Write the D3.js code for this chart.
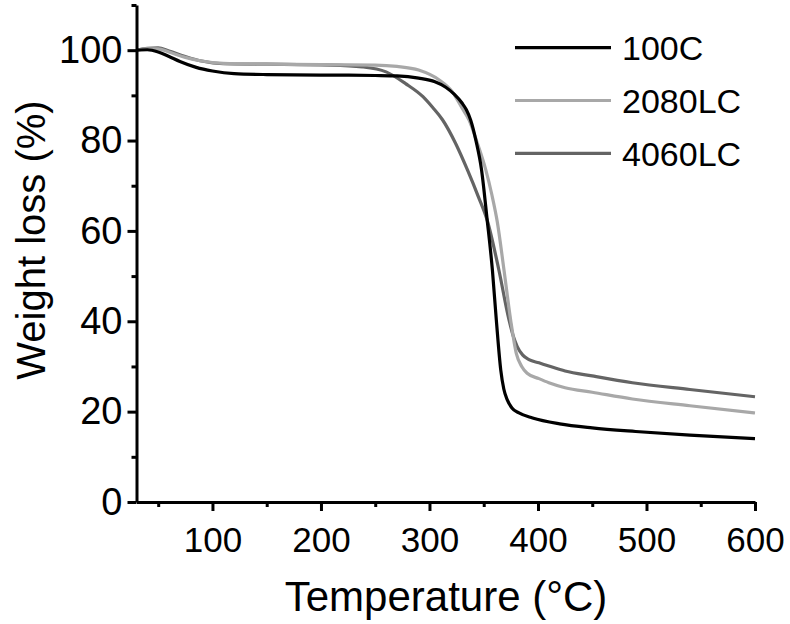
<!DOCTYPE html>
<html><head><meta charset="utf-8">
<script src="https://cdn.jsdelivr.net/npm/d3@7"></script>
<style>body{margin:0;background:#fff}svg{display:block}text{font-family:"Liberation Sans",Arial,sans-serif;fill:#000}</style>
</head><body><svg id="c" width="790" height="624"></svg>
<script>
const seriesNames = ["100C", "2080LC", "4060LC"];
const seriesColors = ["#000000", "#a8a8a8", "#646464"];
const xMajorTicks = [100, 200, 300, 400, 500, 600];
const xMinorTicks = [50, 150, 250, 350, 450, 550];
const yMajorTicks = [0, 20, 40, 60, 80, 100];
const yMinorTicks = [10, 30, 50, 70, 90, 110];

const s100C = [[30,100],[40,100.1],[50,99.6],[60,98.6],[70,97.5],[85,96.2],[100,95.4],[120,94.8],[150,94.6],[200,94.5],[250,94.4],[270,94.3],[290,93.8],[305,93.0],[315,91.8],[323,90.2],[330,88.3],[334,86.8],[338,84.5],[343,79.8],[348,73.5],[353,62.8],[358,51.3],[361.6,40.3],[365.7,29.2],[368.5,25],[371.7,22.6],[376,20.8],[382.5,19.7],[395,18.6],[420,17.3],[450,16.4],[490,15.6],[540,14.8],[600,14.0]];
const s2080LC = [[30,100],[40,100.3],[50,100.3],[60,99.6],[75,98.4],[90,97.6],[110,97.1],[150,96.9],[200,96.8],[250,96.7],[270,96.4],[290,95.6],[309,93.4],[321,90.8],[330,87.2],[336.5,84.5],[344,79.5],[351.9,73.5],[357.5,68],[362.5,62],[368.7,51.3],[374.8,40.3],[380,32.9],[385,30],[390,28.5],[400.9,27.3],[410,26.4],[425,25.3],[450,24.3],[487,22.8],[540,21.3],[600,19.7]];
const s4060LC = [[30,100],[40,100.4],[50,100.5],[60,99.8],[75,98.6],[90,97.6],[110,97.0],[150,96.9],[208,96.7],[238,96.3],[260,95.2],[278,92.6],[294,89.7],[303,87.3],[312,84.6],[324,79.4],[335,73.5],[345,67.6],[353.4,62.2],[364,51.3],[373.3,40.3],[377.5,36.5],[380.9,34.4],[386,32.5],[391.7,31.5],[400.9,30.8],[410,30.1],[425,29.0],[450,27.9],[487,26.4],[540,24.9],[600,23.3]];
const seriesData = [s100C, s2080LC, s4060LC];

const svg = d3.select("#c");
const x = d3.scaleLinear().domain([30, 600]).range([136.5, 755]);
const y = d3.scaleLinear().domain([0, 110]).range([502, 5]);

// lines
const line = d3.line().x(d => x(d[0])).y(d => y(d[1])).curve(d3.curveMonotoneX);
const order = [2, 1, 0];
order.forEach(i => {
  svg.append("path").datum(seriesData[i]).attr("d", line)
    .attr("fill", "none").attr("stroke", seriesColors[i]).attr("stroke-width", 3.2)
    .attr("stroke-linejoin", "round");
});

// axes
const gx = svg.append("g").attr("transform", "translate(0,502)");
gx.call(d3.axisBottom(x).tickValues(xMajorTicks).tickSize(9).tickSizeOuter(0).tickPadding(16));
const gxm = svg.append("g").attr("transform", "translate(0,502)");
gxm.call(d3.axisBottom(x).tickValues(xMinorTicks).tickSize(5).tickSizeOuter(0).tickFormat(""));
gxm.select(".domain").remove();
const gy = svg.append("g").attr("transform", "translate(136.5,0)");
gy.call(d3.axisLeft(y).tickValues(yMajorTicks).tickSize(9).tickSizeOuter(0).tickPadding(5));
const gym = svg.append("g").attr("transform", "translate(136.5,0)");
gym.call(d3.axisLeft(y).tickValues(yMinorTicks).tickSize(5).tickSizeOuter(0).tickFormat(""));
gym.select(".domain").remove();
svg.selectAll(".domain, .tick line").attr("stroke", "#000").attr("stroke-width", 3);
svg.selectAll(".tick text").attr("font-family", '"Liberation Sans", Arial, sans-serif').attr("fill", "#000");
gx.selectAll(".tick text").attr("font-size", 35);
gy.selectAll(".tick text").attr("font-size", 38);

// titles
svg.append("text").attr("x", 446).attr("y", 611).attr("text-anchor", "middle")
  .attr("font-size", 42).text("Temperature (°C)");
svg.append("text").attr("transform", "translate(45,240) rotate(-90)").attr("text-anchor", "middle")
  .attr("font-size", 40).text("Weight loss (%)");

// legend
seriesNames.forEach((n, i) => {
  const ly = 47.7 + i * 52.8;
  svg.append("line").attr("x1", 515).attr("x2", 611).attr("y1", ly).attr("y2", ly)
    .attr("stroke", seriesColors[i]).attr("stroke-width", 3.2);
  svg.append("text").attr("x", 622).attr("y", ly + 12.3).attr("font-size", 34).text(n);
});
</script></body></html>
